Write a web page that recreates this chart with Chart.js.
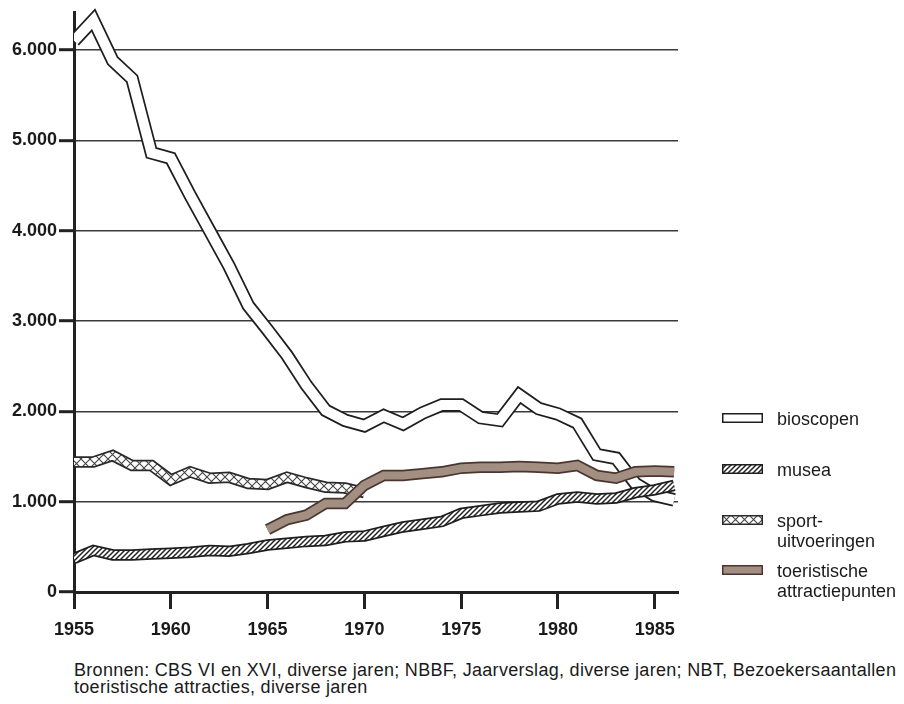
<!DOCTYPE html>
<html>
<head>
<meta charset="utf-8">
<script src="https://cdn.jsdelivr.net/npm/chart.js@4.4.1/dist/chart.umd.min.js"></script>
<style>
  body { margin: 0; background: #fff; }
  #wrap { position: relative; width: 904px; height: 704px; font-family: "Liberation Sans", Arial, sans-serif; color: #1a1a1a; }
  #c { position: absolute; left: 0; top: 0; }
  .leg { position: absolute; left: 722px; font-size: 18px; line-height: 20px; }
  .leg canvas { position: absolute; left: 0; }
  .leg span { position: absolute; left: 55px; white-space: nowrap; }
  #src { position: absolute; left: 74px; top: 662px; font-size: 18px; letter-spacing: 0.3px; line-height: 17px; white-space: nowrap; }
</style>
</head>
<body>
<div id="wrap">
  <canvas id="c" width="904" height="660"></canvas>
  <div id="legend"></div>
  <div id="src">Bronnen: CBS VI en XVI, diverse jaren; NBBF, Jaarverslag, diverse jaren; NBT, Bezoekersaantallen<br>toeristische attracties, diverse jaren</div>
</div>
<script>
const years = [1955, 1956, 1957, 1958, 1959, 1960, 1961, 1962, 1963, 1964, 1965, 1966, 1967, 1968, 1969, 1970,
    1971, 1972, 1973, 1974, 1975, 1976, 1977, 1978, 1979, 1980, 1981, 1982, 1983, 1984, 1985, 1986];

const bioscopen = [6100, 6330, 5880, 5680, 4860, 4800, 4390, 4000, 3610, 3170, 2900, 2620, 2290, 2010, 1900, 1840,
    1950, 1860, 1980, 2070, 2070, 1930, 1900, 2180, 2030, 1970, 1870, 1520, 1480, 1200, 1070, 1020];

const musea = [370, 460, 410, 410, 420, 430, 440, 460, 450, 480, 520, 540, 560, 570, 610, 620,
    670, 720, 750, 780, 870, 900, 930, 940, 950, 1030, 1050, 1030, 1040, 1100, 1130, 1180];

const sport = [1440, 1440, 1510, 1400, 1400, 1240, 1330, 1260, 1270, 1200, 1190, 1270, 1210, 1160, 1150, 1100,
    null, null, null, null, null, null, null, null, null, null, null, null, null, null, null, null];

const toerisme = [null, null, null, null, null, null, null, null, null, null, 690, 800, 850, 980, 980, 1180,
    1290, 1290, 1310, 1330, 1370, 1380, 1380, 1390, 1380, 1370, 1400, 1290, 1260, 1330, 1340, 1330];

const xTicks = [1955, 1960, 1965, 1970, 1975, 1980, 1985];
const yTicks = [0, 1000, 2000, 3000, 4000, 5000, 6000];

const legendLabels = ['bioscopen', 'musea', 'sport-<br>uitvoeringen', 'toeristische<br>attractiepunten'];

function makePattern(size, draw) {
    const pc = document.createElement('canvas');
    pc.width = size;
    pc.height = size;
    const g = pc.getContext('2d');
    draw(g, size);
    return document.getElementById('c').getContext('2d').createPattern(pc, 'repeat');
}

const hatch = makePattern(5, (g, s) => {
    g.fillStyle = '#fff';
    g.fillRect(0, 0, s, s);
    g.strokeStyle = '#222';
    g.lineWidth = 1.5;
    g.beginPath();
    g.moveTo(-1, s + 1); g.lineTo(s + 1, -1);
    g.moveTo(-1, 1); g.lineTo(1, -1);
    g.moveTo(s - 1, s + 1); g.lineTo(s + 1, s - 1);
    g.stroke();
});

const cross = makePattern(9, (g, s) => {
    g.fillStyle = '#fff';
    g.fillRect(0, 0, s, s);
    g.strokeStyle = '#444';
    g.lineWidth = 1.1;
    g.beginPath();
    g.moveTo(0, 0); g.lineTo(s, s);
    g.moveTo(0, s); g.lineTo(s, 0);
    g.stroke();
});

const brown = '#a38e82';

const series = [
    { label: 'bioscopen', data: bioscopen, fill: '#ffffff', edge: '#1e1e1e', w: 10 },
    { label: 'sport', data: sport, fill: cross, edge: '#2a2a2a', w: 8 },
    { label: 'musea', data: musea, fill: hatch, edge: '#1e1e1e', w: 8 },
    { label: 'toerisme', data: toerisme, fill: brown, edge: '#4a3630', w: 8 },
];

// de banden mogen boven en rechts iets buiten het plotvlak steken, links niet
const bandClip = { left: 0, top: 14, right: 10, bottom: 0 };

const datasets = [];
series.forEach((s, i) => {
    const pts = years.map((y, k) => ({ x: y, y: s.data[k] }));
    const top = (series.length - 1 - i) * 2;
    datasets.push({
        label: s.label + '-rand', data: pts, borderColor: s.edge, borderWidth: s.w + 3.5, clip: bandClip,
        pointRadius: 0, tension: 0, borderJoinStyle: 'miter', borderCapStyle: 'butt', order: top + 1,
    });
    datasets.push({
        label: s.label, data: pts, borderColor: s.fill, borderWidth: s.w, clip: bandClip,
        pointRadius: 0, tension: 0, borderJoinStyle: 'miter', borderCapStyle: 'butt', order: top,
    });
});

new Chart(document.getElementById('c'), {
    type: 'line',
    data: { datasets },
    options: {
        responsive: false,
        animation: false,
        spanGaps: false,
        layout: { padding: { top: 12, right: 226, left: 0, bottom: 0 } },
        plugins: { legend: { display: false }, tooltip: { enabled: false } },
        scales: {
            x: {
                type: 'linear', min: 1955, max: 1986.2,
                afterBuildTicks: (sc) => { sc.ticks = xTicks.map((v) => ({ value: v })); },
                afterFit: (sc) => { sc.height = 68; },
                grid: { drawOnChartArea: false, drawTicks: true, tickLength: 17, tickWidth: 3, tickColor: '#222' },
                border: { display: true, color: '#222', width: 3 },
                ticks: {
                    padding: 10, color: '#1a1a1a', maxRotation: 0,
                    font: { family: 'Liberation Sans', size: 18, weight: 'bold' },
                    callback: (v) => String(v),
                },
            },
            y: {
                min: 0, max: 6410,
                afterBuildTicks: (sc) => { sc.ticks = yTicks.map((v) => ({ value: v })); },
                afterFit: (sc) => { sc.width = 74; },
                grid: { color: '#3a3a3a', lineWidth: 1.4, tickLength: 15, tickWidth: 3, tickColor: '#222' },
                border: { display: true, color: '#222', width: 3 },
                ticks: {
                    padding: 2, color: '#1a1a1a',
                    font: { family: 'Liberation Sans', size: 18, weight: 'bold' },
                    callback: (v) => (v === 0 ? '0' : (v / 1000) + '.000'),
                },
            },
        },
    },
});

// legenda met dezelfde vullingen
const legTop = [409, 460, 511, 561];
const legFill = ['#ffffff', hatch, cross, brown];
const legEdge = ['#1e1e1e', '#1e1e1e', '#2a2a2a', '#4a3630'];
const legend = document.getElementById('legend');
legendLabels.forEach((txt, i) => {
    const d = document.createElement('div');
    d.className = 'leg';
    d.style.top = legTop[i] + 'px';
    const sw = document.createElement('canvas');
    sw.width = 41;
    sw.height = 10;
    sw.style.top = '4px';
    const g = sw.getContext('2d');
    g.fillStyle = legFill[i];
    g.fillRect(0, 0, 41, 10);
    g.strokeStyle = legEdge[i];
    g.lineWidth = 1.5;
    g.strokeRect(0.75, 0.75, 39.5, 8.5);
    const sp = document.createElement('span');
    sp.innerHTML = txt;
    d.appendChild(sw);
    d.appendChild(sp);
    legend.appendChild(d);
});
</script>
</body>
</html>
